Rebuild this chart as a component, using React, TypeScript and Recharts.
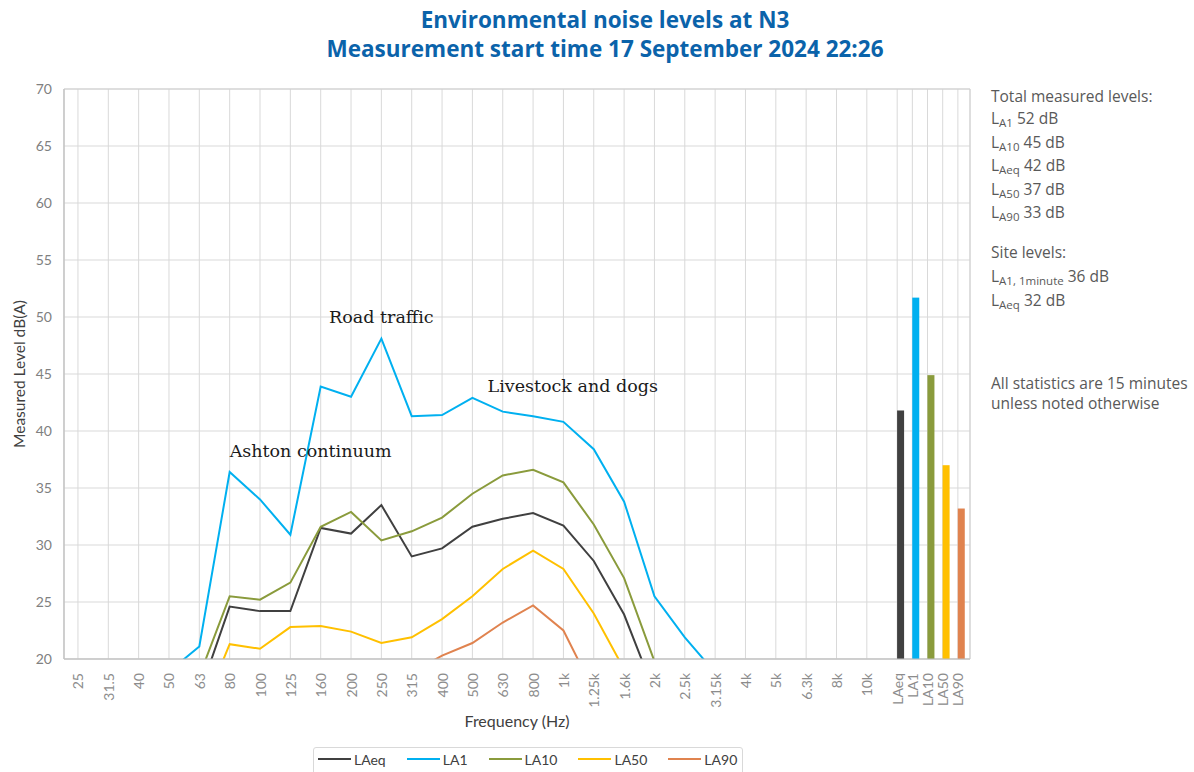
import React from "react";
import {
  ComposedChart,
  Line,
  Bar,
  XAxis,
  YAxis,
  CartesianGrid,
  ReferenceArea,
  ReferenceDot,
} from "recharts";

// one-third octave bands
const bands = [
  "25", "31.5", "40", "50", "63", "80", "100", "125", "160", "200", "250",
  "315", "400", "500", "630", "800", "1k", "1.25k", "1.6k", "2k", "2.5k",
  "3.15k", "4k", "5k", "6.3k", "8k", "10k",
];

// dB(A) per band, null where the line is off the bottom of the chart
const laeq = [
  null, null, null, null, 16.9, 24.6, 24.2, 24.2, 31.5, 31.0, 33.5, 29.0,
  29.7, 31.6, 32.3, 32.8, 31.7, 28.6, 23.9, 17.1, null, null, null, null,
  null, null, null,
];
const la1 = [
  null, null, null, 18.9, 21.1, 36.4, 34.0, 30.9, 43.9, 43.0, 48.1, 41.3,
  41.4, 42.9, 41.7, 41.3, 40.8, 38.4, 33.8, 25.5, 21.9, 18.8, null, null,
  null, null, null,
];
const la10 = [
  null, null, null, null, 18.5, 25.5, 25.2, 26.7, 31.6, 32.9, 30.4, 31.2,
  32.4, 34.5, 36.1, 36.6, 35.5, 31.8, 27.1, 19.8, null, null, null, null,
  null, null, null,
];
const la50 = [
  null, null, null, null, 14.8, 21.3, 20.9, 22.8, 22.9, 22.4, 21.4, 21.9,
  23.5, 25.5, 27.9, 29.5, 27.9, 24.0, 19.1, null, null, null, null, null,
  null, null, null,
];
const la90 = [
  null, null, null, null, null, null, null, null, null, null, null, 18.8,
  20.3, 21.4, 23.2, 24.7, 22.5, 17.2, null, null, null, null, null, null,
  null, null, null,
];

// overall levels (bars on the right)
const totalNames = ["LAeq", "LA1", "LA10", "LA50", "LA90"];
const totalSubs = ["Aeq", "A1", "A10", "A50", "A90"];
const totalValues = [41.8, 51.7, 44.9, 37.0, 33.2];

const siteSubs = ["A1, 1minute", "Aeq"];
const siteValues = [36, 32];

const yTicks = [20, 25, 30, 35, 40, 45, 50, 55, 60, 65, 70];

const annotations = [
  { text: "Road traffic", band: 10, level: 49.5, anchor: "middle" },
  { text: "Ashton continuum", band: 5, level: 37.7, anchor: "start" },
  { text: "Livestock and dogs", band: 13.5, level: 43.4, anchor: "start" },
];

const colors: Record<string, string> = {
  LAeq: "#404040",
  LA1: "#00b0f0",
  LA10: "#8a9b3c",
  LA50: "#ffc000",
  LA90: "#e0834f",
};

const seriesData = [laeq, la1, la10, la50, la90];

const rows = [
  ...bands.map((b, i) => {
    const row: any = { x: i, label: b };
    totalNames.forEach((n, k) => (row[n] = seriesData[k][i]));
    return row;
  }),
  ...totalNames.map((n, j) => ({
    x: bands.length + j * 0.5,
    label: n,
    total: totalValues[j],
  })),
];

const xTicks = rows.map((r) => r.x);
const minorTicks = Array.from({ length: 51 }, (_, i) => 20 + i);
const labelOf = (v: number) => rows.find((r) => r.x === v)?.label ?? "";

const FreqTick = ({ x, y, payload }: any) => (
  <text
    x={x}
    y={y}
    transform={`rotate(-90, ${x}, ${y})`}
    textAnchor="end"
    dominantBaseline="central"
    fill="#8c8c8c"
    fontSize={14}
  >
    {labelOf(payload.value)}
  </text>
);

const TotalBar = (p: any) => (
  <rect
    x={p.x + p.width / 2}
    y={p.y}
    width={p.width}
    height={p.height}
    fill={colors[p.payload.label]}
  />
);

const Sub = ({ children }: { children: React.ReactNode }) => (
  <span style={{ fontSize: 11.5, position: "relative", top: 3 }}>{children}</span>
);

const sideLine: React.CSSProperties = {
  position: "absolute",
  whiteSpace: "nowrap",
  lineHeight: "20px",
};

export default function App() {
  const sorted = totalNames
    .map((n, i) => ({ sub: totalSubs[i], value: totalValues[i] }))
    .sort((a, b) => b.value - a.value);

  return (
    <div
      style={{
        position: "absolute",
        left: 0,
        top: 0,
        width: 1194,
        height: 772,
        overflow: "hidden",
        background: "#fff",
        fontFamily: "Lato, 'Open Sans', sans-serif",
      }}
    >
      <div
        style={{
          position: "absolute",
          left: 0,
          top: 5,
          width: 1210,
          textAlign: "center",
          color: "#0b63aa",
          fontFamily: "'Open Sans', sans-serif",
          fontWeight: 700,
          fontSize: 22.5,
          lineHeight: "29px",
        }}
      >
        <div>Environmental noise levels at N3</div>
        <div>Measurement start time 17 September 2024 22:26</div>
      </div>

      <div style={{ position: "absolute", left: 0, top: 0 }}>
        <ComposedChart
          width={1194}
          height={772}
          data={rows}
          margin={{ top: 89, right: 224, bottom: 33, left: 0 }}
        >
          <CartesianGrid stroke="#d9d9d9" />
          <XAxis
            dataKey="x"
            type="number"
            domain={[-0.46, 29.4]}
            allowDataOverflow
            ticks={xTicks}
            interval={0}
            tick={<FreqTick />}
            tickLine={false}
            tickSize={6}
            tickMargin={8}
            axisLine={{ stroke: "#bfbfbf" }}
            height={80}
            label={{
              value: "Frequency (Hz)",
              position: "insideBottom",
              offset: 12,
              fill: "#404040",
              fontSize: 16,
            }}
          />
          <YAxis
            type="number"
            domain={[20, 70]}
            allowDataOverflow
            ticks={yTicks}
            tickLine={false}
            tickSize={6}
            tickMargin={6}
            axisLine={{ stroke: "#bfbfbf" }}
            width={64}
            tick={{ fill: "#808080", fontSize: 14 }}
            label={(p: any) => {
              const cy = p.viewBox.y + p.viewBox.height / 2;
              return (
                <text
                  x={19}
                  y={cy}
                  transform={`rotate(-90, 19, ${cy})`}
                  textAnchor="middle"
                  dominantBaseline="central"
                  fill="#404040"
                  fontSize={15.5}
                >
                  Measured Level dB(A)
                </text>
              );
            }}
          />
          <YAxis
            yAxisId="minor"
            type="number"
            domain={[20, 70]}
            mirror
            ticks={minorTicks}
            interval={0}
            tick={false}
            tickSize={3}
            tickLine={{ stroke: "#bfbfbf" }}
            axisLine={false}
            width={4}
          />
          <ReferenceArea
            x1={-0.46}
            x2={29.4}
            y1={20}
            y2={70}
            fill="none"
            stroke="#d0d0d0"
            ifOverflow="visible"
          />
          <Bar
            dataKey="total"
            barSize={7}
            shape={<TotalBar />}
            isAnimationActive={false}
          />
          {totalNames.map((n) => (
            <Line
              key={n}
              dataKey={n}
              stroke={colors[n]}
              strokeWidth={2}
              dot={false}
              activeDot={false}
              isAnimationActive={false}
            />
          ))}
          {annotations.map((a) => (
            <ReferenceDot
              key={a.text}
              x={a.band}
              y={a.level}
              r={0}
              fill="none"
              stroke="none"
              label={(p: any) => (
                <text
                  x={p.viewBox.x}
                  y={p.viewBox.y}
                  textAnchor={a.anchor}
                  fill="#1a1a1a"
                  fontSize={17.5}
                  fontFamily="'DejaVu Serif', serif"
                >
                  {a.text}
                </text>
              )}
            />
          ))}
        </ComposedChart>
      </div>

      <div
        style={{
          position: "absolute",
          left: 991,
          top: 0,
          color: "#595959",
          fontFamily: "'Open Sans', sans-serif",
          fontSize: 15.5,
        }}
      >
        <div style={{ ...sideLine, top: 86, lineHeight: "20px" }}>Total measured levels:</div>
        {sorted.map((t, i) => (
          <div key={t.sub} style={{ ...sideLine, top: 108 + i * 23.5 }}>
            L<Sub>{t.sub}</Sub> {Math.round(t.value)} dB
          </div>
        ))}
        <div style={{ ...sideLine, top: 242 }}>Site levels:</div>
        {siteSubs.map((s, i) => (
          <div key={s} style={{ ...sideLine, top: 266 + i * 23.5 }}>
            L<Sub>{s}</Sub> {siteValues[i]} dB
          </div>
        ))}
        <div style={{ ...sideLine, top: 373 }}>
          All statistics are 15 minutes
          <br />
          unless noted otherwise
        </div>
      </div>

      <div
        style={{
          position: "absolute",
          left: 313,
          top: 747,
          width: 430,
          height: 34,
          boxSizing: "border-box",
          border: "1px solid #d9d9d9",
          borderRadius: 3,
          display: "flex",
          alignItems: "flex-start",
          paddingTop: 3,
          paddingLeft: 4,
          color: "#404040",
          fontSize: 14,
          lineHeight: "18px",
        }}
      >
        {totalNames.map((n) => (
          <div key={n} style={{ display: "flex", alignItems: "center", marginRight: 21 }}>
            <div style={{ width: 33, height: 2, background: colors[n], position: "relative", top: -1 }} />
            <span style={{ marginLeft: 3 }}>{n}</span>
          </div>
        ))}
      </div>
    </div>
  );
}
